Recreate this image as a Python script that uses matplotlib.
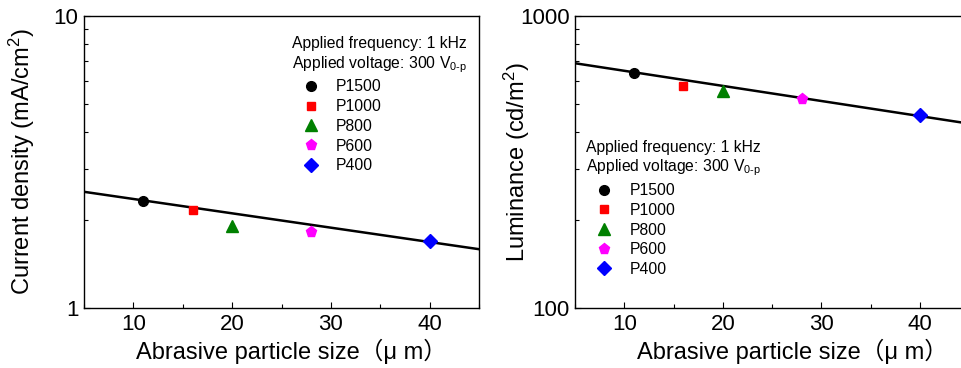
import numpy as np
import matplotlib
matplotlib.use("Agg")
import matplotlib.pyplot as plt
from matplotlib.ticker import MultipleLocator, LogLocator, NullFormatter, FixedLocator, FixedFormatter

plt.rcParams['font.family'] = ['Liberation Sans', 'Noto Sans CJK JP', 'DejaVu Sans']
plt.rcParams['mathtext.fontset'] = 'custom'
plt.rcParams['mathtext.rm'] = 'Liberation Sans'
plt.rcParams['mathtext.it'] = 'Liberation Sans:italic'

# Data
labels = ['P1500', 'P1000', 'P800', 'P600', 'P400']
particle_size = [11, 16, 20, 28, 40]
current_density = [2.33, 2.17, 1.91, 1.82, 1.70]
luminance = [640, 576, 555, 520, 457]

# Fitted lines (end points)
fit_x = [5, 45]
fit_current = [2.50, 1.59]
fit_luminance = [689, 428]

colors = ['black', 'red', 'green', 'magenta', 'blue']
markers = ['o', 's', '^', 'p', 'D']
msizes = [7, 6, 8, 8, 7]

fig = plt.figure(figsize=(9.61, 3.68), dpi=100)
W, H = 961.0, 368.0
ax1 = fig.add_axes([84 / W, 1 - 308 / H, (479 - 84) / W, (308 - 16) / H])
ax2 = fig.add_axes([575 / W, 1 - 308 / H, (969 - 575) / W, (308 - 16) / H])


def draw(ax, yvals, fit_y, ylim, ylabel, anchor, ylab_x, xlab_x):
    ax.plot(fit_x, fit_y, color='black', lw=1.8, zorder=2)
    for i in range(len(labels)):
        ax.plot(particle_size[i], yvals[i], linestyle='none', marker=markers[i],
                color=colors[i], markersize=msizes[i], label=labels[i], zorder=3)
    ax.set_yscale('log')
    ax.set_xlim(5, 45)
    ax.set_ylim(*ylim)
    ax.xaxis.set_major_locator(MultipleLocator(10))
    ax.xaxis.set_minor_locator(MultipleLocator(5))
    ax.yaxis.set_major_locator(FixedLocator(list(ylim)))
    ax.yaxis.set_major_formatter(FixedFormatter([str(int(ylim[0])), str(int(ylim[1]))]))
    ax.yaxis.set_minor_locator(LogLocator(base=10, subs=np.arange(2, 10)))
    ax.yaxis.set_minor_formatter(NullFormatter())
    ax.tick_params(which='both', direction='in', top=False, right=False)
    ax.tick_params(which='major', length=4, width=0.8, labelsize=16, pad=4)
    ax.tick_params(which='minor', length=3, width=0.8)
    for s in ax.spines.values():
        s.set_linewidth(1.0)
    ax.set_xlabel('Abrasive particle size（μ m）', fontsize=17)
    ax.set_ylabel(ylabel, fontsize=17)
    ax.yaxis.set_label_coords(ylab_x, 0.5)
    ax.xaxis.set_label_coords(xlab_x, -0.105)
    leg = ax.legend(loc='upper left', bbox_to_anchor=anchor, frameon=False, fontsize=11.3,
                    title='Applied frequency: 1 kHz\nApplied voltage: 300 V$_{\\mathregular{0\\text{-}p}}$',
                    title_fontsize=11.3, alignment='left', handletextpad=0.4,
                    labelspacing=0.3, borderpad=0.0, handlelength=2.4)
    return leg


draw(ax1, current_density, fit_current, (1, 10), 'Current density (mA/cm$^2$)',
     (0.507, 0.957), -0.119, 0.524)
draw(ax2, luminance, fit_luminance, (100, 1000), 'Luminance (cd/m$^2$)',
     (0.007, 0.602), -0.109, 0.553)

fig.savefig('out.png', dpi=100)
